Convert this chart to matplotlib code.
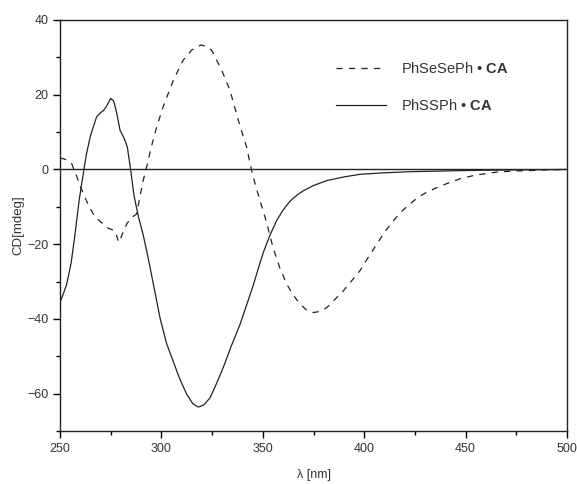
import numpy as np
import matplotlib
matplotlib.use("Agg")
import matplotlib.pyplot as plt
from matplotlib.ticker import MultipleLocator

plt.rcParams["font.family"] = ["Liberation Sans", "DejaVu Sans"]
plt.rcParams["mathtext.fontset"] = "custom"
plt.rcParams["mathtext.rm"] = "Liberation Sans"
plt.rcParams["mathtext.bf"] = "Liberation Sans:bold"

# PhSSPh . CA (solid)
wl_s = [250, 251.5, 253.3, 255.5, 257.4, 259.5, 261.5, 263, 265, 268, 270, 271.5, 273, 275,
        276.5, 278, 279.6, 281.5, 283.2, 284.8, 286.5, 288.6, 291, 292.7, 294.5, 296.5,
        299.3, 302.5, 305.9, 309, 312.5, 315.5, 318.2, 321, 324, 327, 330.5, 334.5, 338.8,
        342, 345.4, 348.6, 350.4, 353.6, 357, 360.1, 363.4, 367, 370, 375, 381.5, 390,
        397.9, 410, 422.6, 440, 460, 480, 500]
cd_s = [-35.6, -33.5, -30.7, -25, -17.3, -8, -1, 4, 9, 14, 15.2, 15.8, 17, 19,
        18.3, 15, 10.5, 8.5, 6, 0, -7, -12.5, -17.5, -21.7, -26.5, -32,
        -39.7, -46.5, -51.5, -56, -60.2, -62.7, -63.6, -63, -61.1, -57.5, -53, -47.2, -41.4,
        -36.3, -30.8, -25, -22, -17.5, -13.5, -10.8, -8.5, -6.8, -5.7, -4.3, -3, -2,
        -1.3, -0.9, -0.6, -0.4, -0.2, -0.1, 0]

# PhSeSePh . CA (dashed)
wl_d = [250, 251.5, 253.5, 255.8, 258, 260, 261.5, 264, 266.4, 269, 271, 273, 275, 277,
        279, 281, 282.9, 285, 287.8, 289.5, 291, 292.7, 295, 297.7, 301, 305.9, 310.8,
        315, 319.4, 322, 324.8, 327, 329.7, 333.8, 337.9, 342, 344.5, 346.5, 348.6,
        351.6, 355.2, 358.5, 361.8, 365, 368.3, 371.5, 375, 378, 381.5, 385.5, 389.7,
        393.5, 397.9, 402, 406.2, 410, 414.4, 418.5, 422.6, 426.5, 430.8, 436, 440.7,
        447.2, 455, 465.3, 475, 481.8, 490, 500]
cd_d = [3, 2.9, 2.5, 1.5, -1.5, -4.5, -6.5, -9.5, -11.9, -13.5, -14.5, -15.5, -16, -16.4,
        -19.5, -17, -14.6, -13, -11.9, -7, -3, 0.6, 6, 11.4, 17, 23.9, 29.3,
        32, 33.3, 33, 31.9, 29.5, 26.6, 21.2, 13.2, 6, -0.3, -4.5, -8.3,
        -13.7, -21.2, -26.5, -30.7, -33.6, -36, -37.6, -38.3, -38, -37, -34.8, -32.5,
        -30, -27.1, -23.5, -20, -16.8, -13.7, -11.2, -9.2, -7.5, -6.1, -4.8, -3.8,
        -2.5, -1.5, -0.7, -0.4, -0.3, -0.1, 0]

fig = plt.figure(figsize=(5.77, 4.84), dpi=100)
ax = fig.add_axes([0.104, 0.1095, 0.8787, 0.8492])

ax.axhline(0, color="#222222", lw=1.0, zorder=1)
ax.plot(wl_d, cd_d, color="#222222", lw=0.9, ls=(0, (5, 5)),
        label="PhSeSePh \u2022 $\\mathbf{CA}$")
ax.plot(wl_s, cd_s, color="#222222", lw=0.9, label="PhSSPh \u2022 $\\mathbf{CA}$")

ax.set_xlim(250, 500)
ax.set_ylim(-70, 40)
ax.xaxis.set_major_locator(MultipleLocator(50))
ax.xaxis.set_minor_locator(MultipleLocator(25))
ax.yaxis.set_major_locator(MultipleLocator(20))
ax.yaxis.set_minor_locator(MultipleLocator(10))
ax.tick_params(which="major", direction="out", length=5, width=1, labelsize=9,
               labelcolor="#333333", top=False, right=False)
ax.tick_params(which="minor", direction="out", length=3, width=1, top=False, right=False)
for sp in ax.spines.values():
    sp.set_linewidth(1.0)
    sp.set_color("#222222")

ax.set_xlabel("\u03bb [nm]", fontsize=9, color="#333333", labelpad=10)
ax.set_ylabel("CD[mdeg]", fontsize=9.5, color="#333333", labelpad=2)

leg = ax.legend(loc="upper left", bbox_to_anchor=(0.519, 0.931), frameon=False,
                fontsize=10.5, handlelength=3.4, handletextpad=1.05, labelspacing=1.45)
for t in leg.get_texts():
    t.set_color("#333333")

fig.savefig("out.png", dpi=100)
